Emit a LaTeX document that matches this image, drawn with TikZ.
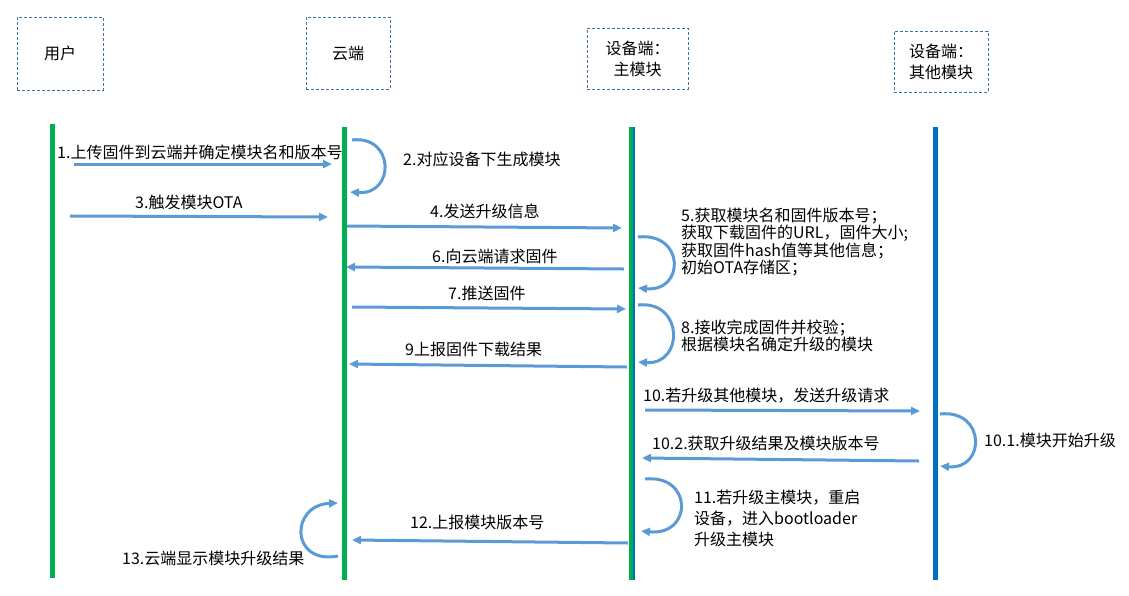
\documentclass[tikz,border=0pt]{standalone}
\usepackage{fontspec}
\setmainfont{Noto Sans CJK SC}
\usetikzlibrary{arrows.meta}
\definecolor{msgblue}{HTML}{5B9BD5}
\definecolor{lifegreen}{HTML}{00B050}
\definecolor{lifeblue}{HTML}{0070C0}
\definecolor{boxblue}{HTML}{41719C}

\begin{document}
\begin{tikzpicture}[x=1pt,y=-1pt,
	hdr/.style={draw=boxblue,dash pattern=on 3pt off 2pt,line width=0.8pt,align=center,font=\fontsize{16}{21}\selectfont},
	life/.style={line width=5pt},
	msg/.style={draw=msgblue,line width=3pt,-{Triangle[length=9pt,width=8pt]}},
	lbl/.style={anchor=west,inner sep=0pt,align=left,font=\fontsize{16}{17.5}\selectfont}]
	\useasboundingbox (0,0) rectangle (1129,595);
	% headers
	\node[hdr,minimum width=86pt,minimum height=73pt] (usr) at (60,53.5) {用户};
	\node[hdr,minimum width=84pt,minimum height=72pt] (cld) at (348,53) {云端};
	\node[hdr,minimum width=101pt,minimum height=61pt] (mainm) at (637.5,58.5) {设备端：\\主模块};
	\node[hdr,minimum width=94pt,minimum height=61pt] (othm) at (941,61.5) {设备端：\\其他模块};
	% lifelines
	\coordinate (u0) at (52,124);
	\coordinate (u1) at (52,578);
	\coordinate (c0) at (344,127);
	\coordinate (c1) at (344,580);
	\coordinate (m0) at (632,127);
	\coordinate (m1) at (632,580);
	\coordinate (o0) at (935,127);
	\coordinate (o1) at (935,580);
	\draw[life,draw=lifegreen] (u0) -- (u1);
	\draw[life,draw=lifegreen] (c0) -- (c1);
	\draw[life,draw=lifeblue] (m0) -- (m1);
	\draw[line width=4pt,draw=lifegreen] ([xshift=-0.7pt]m0) -- ([xshift=-0.7pt]m1);
	\draw[life,draw=lifeblue] (o0) -- (o1);
	% messages
	\draw[msg] (74,164) -- (332,164);
	\node[lbl] (t1) at (57,152) {1.上传固件到云端并确定模块名和版本号};
	\draw[msg] (352,140) .. controls (395,135) and (395,195) .. (350,192);
	\node[lbl] (t2) at (403,159) {2.对应设备下生成模块};
	\draw[msg] (70,216) -- (328,217);
	\node[lbl] (t3) at (135,202) {3.触发模块OTA};
	\draw[msg] (347,226) -- (622,228);
	\node[lbl] (t4) at (430,211) {4.发送升级信息};
	\draw[msg] (638,237) .. controls (685,232) and (685,292) .. (638,288);
	\node[lbl] (t5) at (681,242) {5.获取模块名和固件版本号；\\获取下载固件的URL，固件大小;\\获取固件hash值等其他信息；\\初始OTA存储区；};
	\draw[msg] (624,269) -- (346,267);
	\node[lbl] (t6) at (432,256) {6.向云端请求固件};
	\draw[msg] (352,307) -- (626,309);
	\node[lbl] (t7) at (448,293) {7.推送固件};
	\draw[msg] (638,305) .. controls (684,300) and (684,365) .. (638,362);
	\node[lbl] (t8) at (681,336) {8.接收完成固件并校验；\\根据模块名确定升级的模块};
	\draw[msg] (627,367) -- (349,364);
	\node[lbl] (t9) at (405,349) {9上报固件下载结果};
	\draw[msg] (645,410) -- (920,411);
	\node[lbl] (t10) at (643,396) {10.若升级其他模块，发送升级请求};
	\draw[msg] (940,414) .. controls (986,409) and (986,470) .. (940,466);
	\node[lbl] (t101) at (984,440) {10.1.模块开始升级};
	\draw[msg] (919,461) -- (642,458);
	\node[lbl] (t102) at (652,443) {10.2.获取升级结果及模块版本号};
	\draw[msg] (645,479) .. controls (693,474) and (693,536) .. (641,531);
	\node[lbl,font=\fontsize{16}{21}\selectfont] (t11) at (694,518) {11.若升级主模块，重启\\设备，进入bootloader\\升级主模块};
	\draw[msg] (628,543) -- (352,540);
	\node[lbl] (t12) at (410,522) {12.上报模块版本号};
	\draw[msg] (338,556) .. controls (290,565) and (290,505) .. (338,503);
	\node[lbl] (t13) at (122,558) {13.云端显示模块升级结果};
\end{tikzpicture}
\end{document}
